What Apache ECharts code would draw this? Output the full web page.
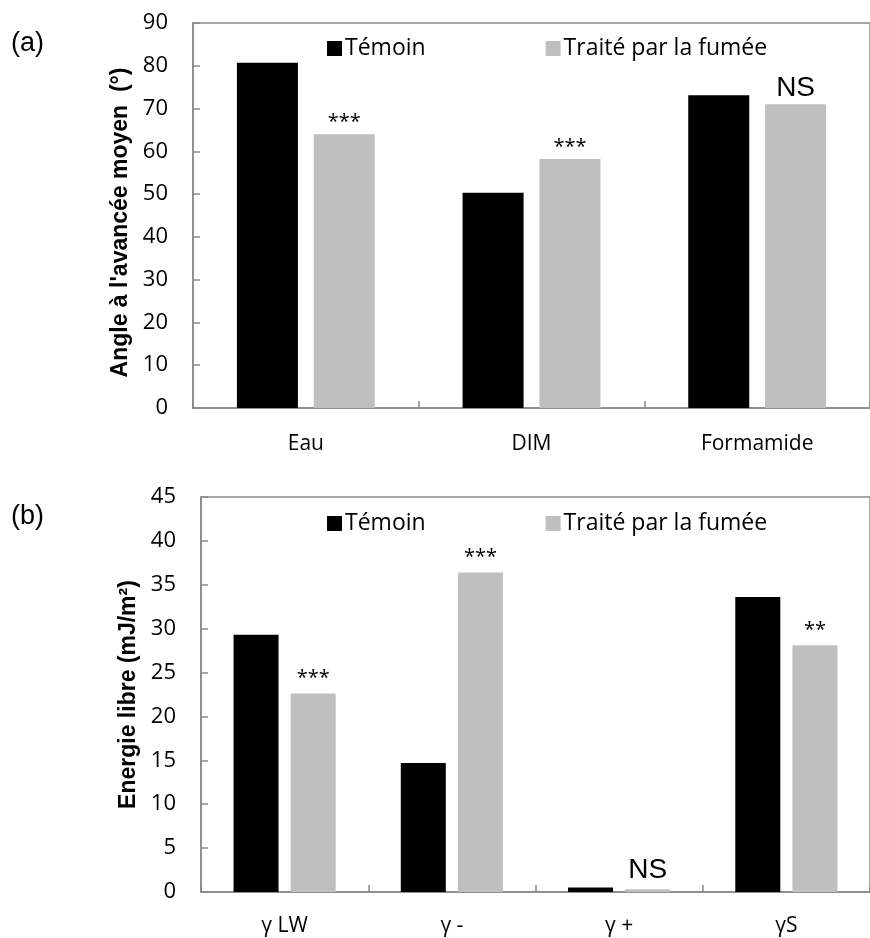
<!DOCTYPE html>
<html>
<head>
<meta charset="utf-8">
<script src="https://cdn.jsdelivr.net/npm/echarts@6/dist/echarts.min.js"></script>
<style>
html,body{margin:0;padding:0;background:#fff;}
#chart{width:870px;height:938px;}
</style>
</head>
<body>
<div id="chart"></div>
<script>
// Panel (a)
const catsA = ['Eau', 'DIM', 'Formamide'];
const temoinA = [80.7, 50.3, 73.1];
const traiteA = [64.0, 58.2, 71.0];
const sigA = ['***', '***', 'NS'];
const ticksA = { min: 0, max: 90, interval: 10 };

// Panel (b)
const catsB = ['γ LW', 'γ -', 'γ +', 'γS'];
const temoinB = [29.3, 14.7, 0.5, 33.6];
const traiteB = [22.6, 36.4, 0.3, 28.1];
const sigB = ['***', '***', 'NS', '**'];
const ticksB = { min: 0, max: 45, interval: 5 };

const serieNames = ['Témoin', 'Traité par la fumée'];
const titleA = "Angle à l'avancée moyen  (°)";
const titleB = 'Energie libre (mJ/m²)';

const AXIS = '#898989';
const BLACK = '#000000';
const GREY = '#bfbfbf';

function sigLabel(sig, dist) {
  return {
    show: true,
    position: 'top',
    distance: dist,
    formatter: p => sig[p.dataIndex] === 'NS' ? '{ns|NS}' : '{st|' + sig[p.dataIndex] + '}',
    rich: {
      ns: { fontFamily: 'Liberation Sans', fontSize: 28, color: '#000' },
      st: { fontFamily: 'Open Sans', fontSize: 20, color: '#000' }
    }
  };
}

function yAxisCfg(idx, t, name, gap, pad) {
  return {
    type: 'value', gridIndex: idx, min: t.min, max: t.max, interval: t.interval,
    name: name, nameLocation: 'middle', nameGap: gap, nameRotate: 90,
    nameTextStyle: { fontFamily: 'Liberation Sans', fontWeight: 'bold', fontSize: 23, color: '#000', padding: pad },
    axisLine: { show: true, lineStyle: { color: AXIS, width: 1.5 } },
    axisTick: { show: true, inside: true, length: 7, lineStyle: { color: AXIS, width: 1.5 } },
    axisLabel: { fontFamily: 'Open Sans', fontSize: 22, color: '#000', margin: 25 },
    splitLine: { show: false }
  };
}

function xAxisCfg(idx, cats, margin) {
  return {
    type: 'category', gridIndex: idx, data: cats,
    axisLine: { show: true, lineStyle: { color: AXIS, width: 1.5 } },
    axisTick: { show: true, inside: true, length: 7, alignWithLabel: false, lineStyle: { color: AXIS, width: 1.5 } },
    axisLabel: { fontFamily: 'Open Sans', fontSize: 21, color: '#000', margin: margin }
  };
}

const legendBase = {
  itemWidth: 15, itemHeight: 15, itemGap: 120, icon: 'rect',
  textStyle: { fontFamily: 'Open Sans', fontSize: 23, color: '#000', padding: [0, 0, 0, -2] },
  data: serieNames, selectedMode: false
};

const option = {
  backgroundColor: '#fff',
  animation: false,
  graphic: [
    { type: 'text', left: 11, top: 30, style: { text: '(a)', fontFamily: 'Liberation Sans', fontSize: 27, fill: '#000' } },
    { type: 'text', left: 11, top: 503, style: { text: '(b)', fontFamily: 'Liberation Sans', fontSize: 27, fill: '#000' } }
  ],
  legend: [
    Object.assign({ left: 322, top: 32 }, legendBase),
    Object.assign({ left: 322, top: 507 }, legendBase)
  ],
  grid: [
    { left: 193, top: 23, width: 685, height: 385, show: true, borderColor: AXIS, borderWidth: 1.5, containLabel: false },
    { left: 201, top: 497, width: 681, height: 395, show: true, borderColor: AXIS, borderWidth: 1.5, containLabel: false }
  ],
  xAxis: [xAxisCfg(0, catsA, 26), xAxisCfg(1, catsB, 24)],
  yAxis: [yAxisCfg(0, ticksA, titleA, 58, [0, 14, 0, 0]), yAxisCfg(1, ticksB, titleB, 59, [0, 0, 0, 0])],
  series: [
    { name: serieNames[0], type: 'bar', xAxisIndex: 0, yAxisIndex: 0, data: temoinA, barWidth: 61, barGap: '26%', itemStyle: { color: BLACK } },
    { name: serieNames[1], type: 'bar', xAxisIndex: 0, yAxisIndex: 0, data: traiteA, barWidth: 61, barGap: '26%', itemStyle: { color: GREY }, label: sigLabel(sigA, 2) },
    { name: serieNames[0], type: 'bar', xAxisIndex: 1, yAxisIndex: 1, data: temoinB, barWidth: 45, barGap: '27%', itemStyle: { color: BLACK } },
    { name: serieNames[1], type: 'bar', xAxisIndex: 1, yAxisIndex: 1, data: traiteB, barWidth: 45, barGap: '27%', itemStyle: { color: GREY }, label: sigLabel(sigB, 5) }
  ]
};

const chart = echarts.init(document.getElementById('chart'), null, { renderer: 'canvas' });
chart.setOption(option);
</script>
</body>
</html>
